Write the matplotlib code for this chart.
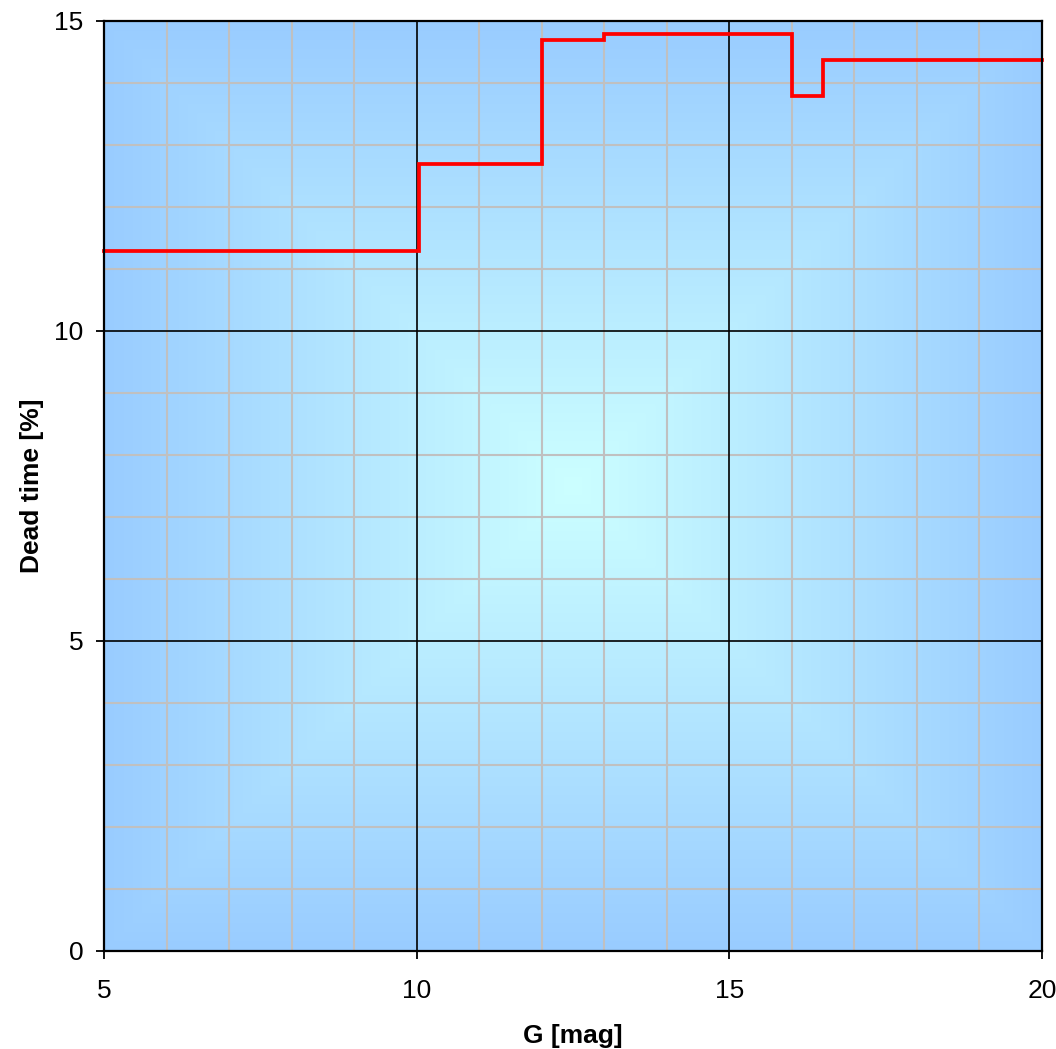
import numpy as np
import matplotlib
matplotlib.use("Agg")
import matplotlib.pyplot as plt
from matplotlib.colors import to_rgb

# Data
g_edges = [5, 10.03, 12, 13, 16, 16.5, 20]
dead_time = [11.29, 12.69, 14.69, 14.79, 13.79, 14.37]
x_ticks = [5, 10, 15, 20]
y_ticks = [0, 5, 10, 15]

plt.rcParams['font.family'] = ['Liberation Sans', 'DejaVu Sans']

fig = plt.figure(figsize=(10.56, 10.49), dpi=100)
ax = fig.add_axes([104/1056, 1 - 951/1049, (1042-104)/1056, (951-21)/1049])

# Rectangular "from centre" gradient background
n = 400
u = np.linspace(-1, 1, n)
U, V = np.meshgrid(u, u)
t = np.maximum(np.abs(U), np.abs(V))
c0 = np.array(to_rgb('#CCFFFF'))
c1 = np.array(to_rgb('#99CCFF'))
img = c0[None, None, :] + (c1 - c0)[None, None, :] * t[:, :, None]
ax.imshow(img, extent=[5, 20, 0, 15], aspect='auto', zorder=0, interpolation='bilinear')

# grid
for x in np.arange(6, 20, 1):
    if x % 5 != 0:
        ax.axvline(x, color='#C0C0C0', lw=1.5, zorder=1)
for y in np.arange(1, 15, 1):
    if y % 5 != 0:
        ax.axhline(y, color='#C0C0C0', lw=1.5, zorder=1)
for x in [10, 15]:
    ax.axvline(x, color='black', lw=1.2, zorder=1.5)
for y in [5, 10]:
    ax.axhline(y, color='black', lw=1.2, zorder=1.5)

# step line
ys = dead_time + [dead_time[-1]]
ax.step(g_edges, ys, where='post', color='#FF0000', lw=2.7, zorder=3, clip_on=False,
        solid_joinstyle='miter')

ax.set_xlim(5, 20)
ax.set_ylim(0, 15)
ax.set_xticks(x_ticks)
ax.set_yticks(y_ticks)
ax.set_xticklabels([str(v) for v in x_ticks])
ax.set_yticklabels([str(v) for v in y_ticks])
ax.tick_params(axis='both', direction='out', length=6, width=1.3, labelsize=19, color='black')
ax.tick_params(axis='x', pad=14)
ax.tick_params(axis='y', pad=9)

for s in ax.spines.values():
    s.set_linewidth(1.6)
    s.set_color('black')
    s.set_zorder(4)

ax.set_xlabel('G [mag]', fontsize=19, fontweight='bold', labelpad=15)
ax.set_ylabel('Dead time [%]', fontsize=19, fontweight='bold', labelpad=7)

fig.savefig('out.png', dpi=100)
